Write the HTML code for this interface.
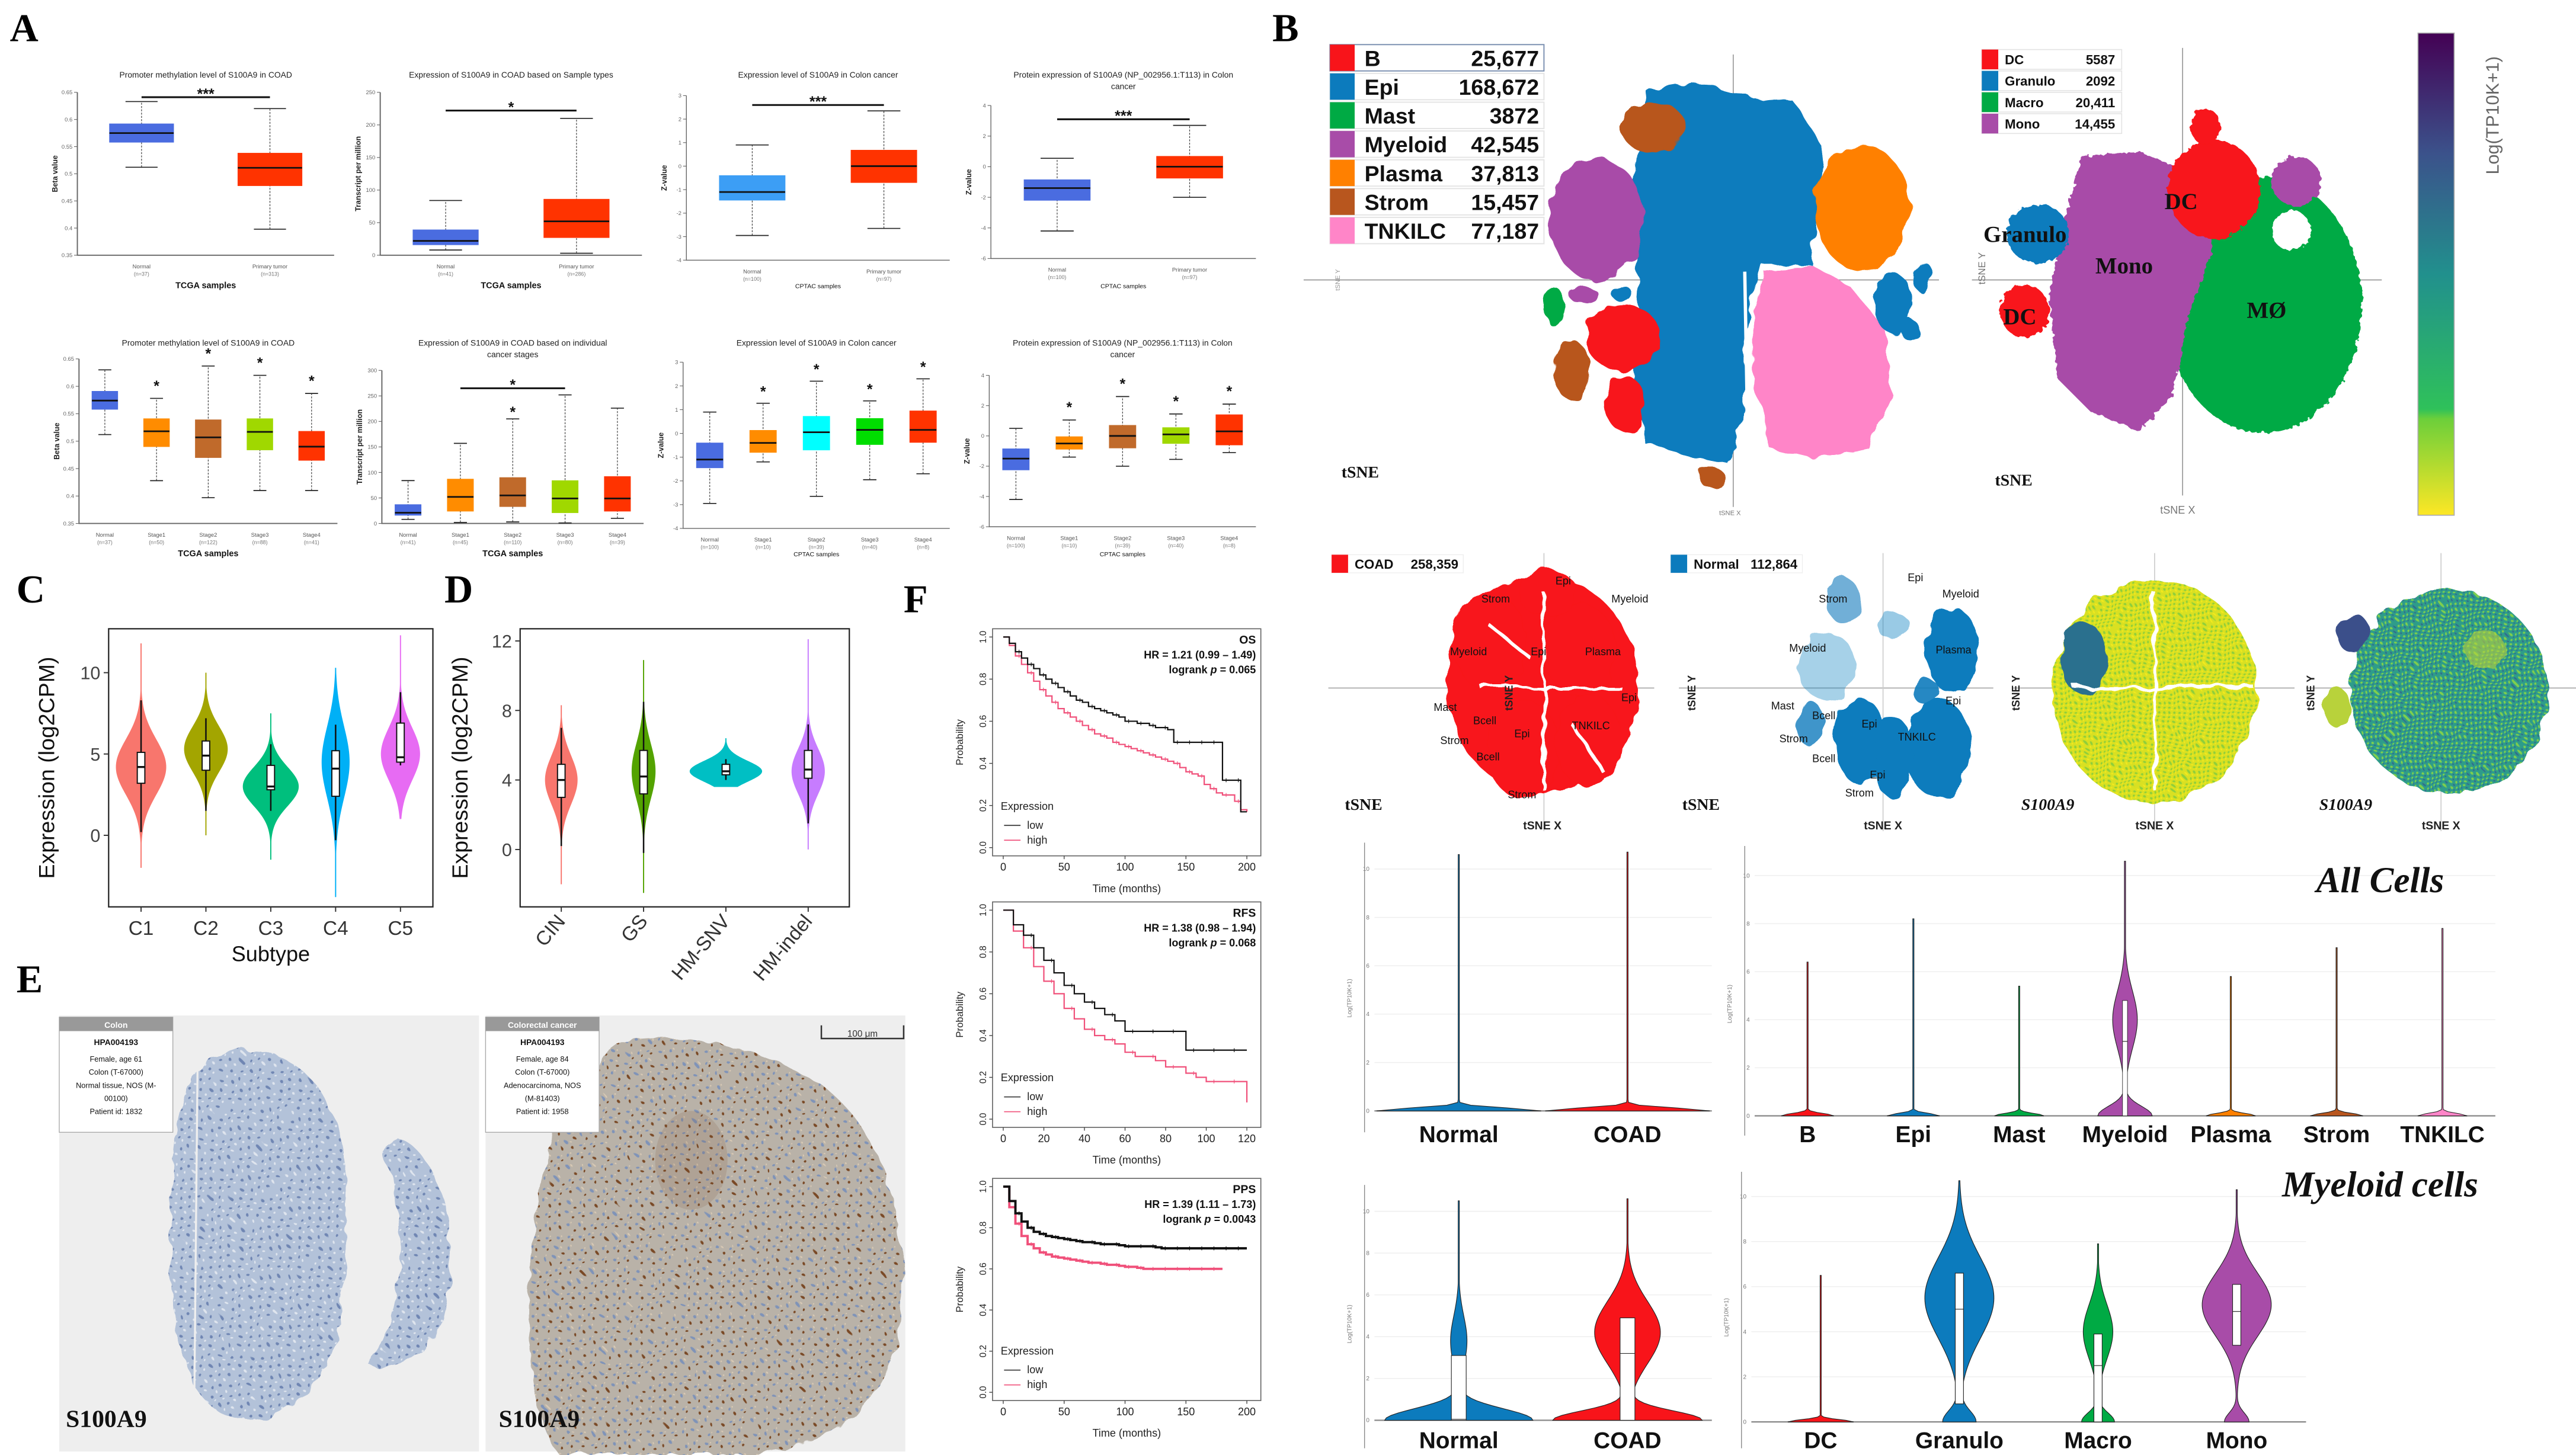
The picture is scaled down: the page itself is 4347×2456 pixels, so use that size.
<!DOCTYPE html>
<html><head><meta charset="utf-8"><style>
html,body{margin:0;padding:0;background:#fff;}
svg{display:block;font-family:"Liberation Sans",sans-serif;}
</style></head><body>
<svg id="fig" xmlns="http://www.w3.org/2000/svg" width="4347" height="2456" viewBox="0 0 1565 884">
<defs>
<filter id="rough" x="-20%" y="-20%" width="140%" height="140%"><feTurbulence type="fractalNoise" baseFrequency="0.09" numOctaves="2" seed="3"/><feDisplacementMap in="SourceGraphic" scale="7"/></filter>
<filter id="rough2" x="-20%" y="-20%" width="140%" height="140%"><feTurbulence type="fractalNoise" baseFrequency="0.3" numOctaves="2" seed="5"/><feDisplacementMap in="SourceGraphic" scale="4"/></filter>
<linearGradient id="vir" x1="0" y1="0" x2="0" y2="1"><stop offset="0" stop-color="#440154"/><stop offset="0.25" stop-color="#3b528b"/><stop offset="0.5" stop-color="#21908d"/><stop offset="0.78" stop-color="#2fc15a"/><stop offset="0.8" stop-color="#6ccf3a"/><stop offset="1" stop-color="#fde725"/></linearGradient>
<pattern id="yel" width="3" height="3" patternUnits="userSpaceOnUse"><rect width="3" height="3" fill="#d9e021"/><circle cx="1" cy="1" r="0.7" fill="#8fcf3a"/><circle cx="2.4" cy="2.2" r="0.5" fill="#f3ea1e"/></pattern>
<pattern id="tea" width="3" height="3" patternUnits="userSpaceOnUse"><rect width="3" height="3" fill="#2e9c8a"/><circle cx="1" cy="1" r="0.7" fill="#7fcf4e"/><circle cx="2.3" cy="2.3" r="0.5" fill="#31698e"/></pattern>
<pattern id="tisB" width="6" height="6" patternUnits="userSpaceOnUse"><rect width="6" height="6" fill="#b3c2d9"/><circle cx="2" cy="2" r="0.9" fill="#6f86b3"/><circle cx="4.5" cy="4.6" r="0.7" fill="#dfe5ee"/></pattern>
<pattern id="tisR" width="7" height="7" patternUnits="userSpaceOnUse"><rect width="7" height="7" fill="#b9b2a8"/><circle cx="2" cy="2" r="0.9" fill="#7f93b8"/><circle cx="5" cy="4.5" r="0.8" fill="#7a4a25"/><circle cx="4" cy="1" r="0.5" fill="#d8c9b4"/></pattern>
</defs>
</svg>
<script>
const svg=document.getElementById('fig');
const NS='http://www.w3.org/2000/svg';
function mk(tag,a,p){const e=document.createElementNS(NS,tag);for(const k in a)e.setAttribute(k,a[k]);(p||svg).appendChild(e);return e;}
function T(s,x,y,sz,ex,p){const e=mk('text',Object.assign({x:x,y:y,'font-size':sz},ex||{}),p);e.textContent=s;return e;}

/* ================= DATA: panel A box plots ================= */
const a1Cats=['Normal','Primary tumor'];const a1N=['(n=37)','(n=313)'];
const a1Q1=[0.558,0.478];const a1Med=[0.575,0.511];const a1Q3=[0.592,0.538];const a1Lo=[0.512,0.398];const a1Hi=[0.633,0.62];
const a1Ticks=[0.35,0.4,0.45,0.5,0.55,0.6,0.65];
const a2Cats=['Normal','Primary tumor'];const a2N=['(n=41)','(n=286)'];
const a2Q1=[16,27];const a2Med=[22,52];const a2Q3=[39,86];const a2Lo=[8,3];const a2Hi=[84,210];
const a2Ticks=[0,50,100,150,200,250];
const a3Cats=['Normal','Primary tumor'];const a3N=['(n=100)','(n=97)'];
const a3Q1=[-1.45,-0.7];const a3Med=[-1.1,0];const a3Q3=[-0.4,0.68];const a3Lo=[-2.95,-2.65];const a3Hi=[0.9,2.35];
const a3Ticks=[-4,-3,-2,-1,0,1,2,3];
const a4Cats=['Normal','Primary tumor'];const a4N=['(n=100)','(n=97)'];
const a4Q1=[-2.2,-0.75];const a4Med=[-1.4,0];const a4Q3=[-0.85,0.68];const a4Lo=[-4.2,-2];const a4Hi=[0.55,2.7];
const a4Ticks=[-6,-4,-2,0,2,4];
const a5Cats=['Normal','Stage1','Stage2','Stage3','Stage4'];const a5N=['(n=37)','(n=50)','(n=122)','(n=88)','(n=41)'];
const a5Q1=[0.558,0.49,0.47,0.484,0.465];const a5Med=[0.574,0.518,0.507,0.517,0.49];const a5Q3=[0.591,0.541,0.539,0.541,0.518];const a5Lo=[0.512,0.428,0.397,0.41,0.41];const a5Hi=[0.63,0.578,0.637,0.62,0.587];
const a6Cats=['Normal','Stage1','Stage2','Stage3','Stage4'];const a6N=['(n=41)','(n=45)','(n=110)','(n=80)','(n=39)'];
const a6Q1=[16,24,33,21,24];const a6Med=[21,52,55,49,49];const a6Q3=[37,87,90,84,92];const a6Lo=[8,2,3,1,10];const a6Hi=[84,157,205,252,226];
const a6Ticks=[0,50,100,150,200,250,300];
const a7Cats=['Normal','Stage1','Stage2','Stage3','Stage4'];const a7N=['(n=100)','(n=10)','(n=39)','(n=40)','(n=8)'];
const a7Q1=[-1.45,-0.8,-0.7,-0.47,-0.38];const a7Med=[-1.1,-0.4,0.05,0.15,0.15];const a7Q3=[-0.4,0.13,0.72,0.63,0.95];const a7Lo=[-2.95,-1.2,-2.65,-1.95,-1.7];const a7Hi=[0.9,1.27,2.2,1.37,2.3];
const a8Cats=['Normal','Stage1','Stage2','Stage3','Stage4'];const a8N=['(n=100)','(n=10)','(n=39)','(n=40)','(n=8)'];
const a8Q1=[-2.25,-0.88,-0.8,-0.5,-0.6];const a8Med=[-1.5,-0.5,0,0.1,0.3];const a8Q3=[-0.85,-0.05,0.7,0.55,1.4];const a8Lo=[-4.2,-1.4,-2,-1.55,-1.1];const a8Hi=[0.5,1.05,2.6,1.45,2.1];

/* ================= DATA: C / D violins ================= */
const cCats=['C1','C2','C3','C4','C5'];
const cLo=[-2,0,-1.5,-3.8,1];const cHi=[11.8,10,7.5,10.3,12.3];
const cMode=[4.2,5.3,3,4.5,5];const cSd=[1.7,1.4,1.2,2.2,1.6];const cDens=[0.9,0.78,1.0,0.5,0.7];
const cQ1=[3.2,4,2.8,2.4,4.5];const cMed=[4.2,4.9,3.0,4.1,4.8];const cQ3=[5.1,5.8,4.3,5.2,6.9];
const cWLo=[0.2,1.5,1.5,-0.3,4.3];const cWHi=[8.3,7.2,5.6,6.8,8.8];
const cTicks=[0,5,10];
const dCats=['CIN','GS','HM-SNV','HM-indel'];
const dLo=[-2,-2.5,3.6,0];const dHi=[8.3,10.9,6.4,12.1];
const dMode=[4,4.5,4.5,4.5];const dSd=[1.4,1.6,0.6,1.3];const dDens=[0.45,0.33,1.0,0.46];
const dQ1=[3,3.2,4.3,4.1];const dMed=[4,4.2,4.5,4.6];const dQ3=[4.9,5.7,4.9,5.7];
const dWLo=[0.2,-0.2,4,1.5];const dWHi=[7,8.5,5.2,7.2];
const dTicks=[0,4,8,12];

/* ================= DATA: F Kaplan-Meier ================= */
const osTime=[0,5,10,15,20,25,30,35,40,45,50,55,60,65,70,75,80,85,90,95,100,105,110,115,120,125,130,135,140,145,150,155,160,165,170,175,180,185,190,195,200];
const osLow=[1,.97,.93,.9,.87,.85,.82,.8,.78,.76,.74,.72,.7,.69,.67,.66,.65,.64,.63,.62,.6,.6,.59,.59,.58,.57,.57,.56,.5,.5,.5,.5,.5,.5,.5,.5,.32,.32,.32,.17,.17];
const osHigh=[1,.96,.91,.87,.83,.79,.75,.72,.69,.66,.64,.62,.6,.58,.56,.54,.53,.52,.5,.49,.48,.47,.46,.45,.44,.43,.42,.41,.4,.38,.36,.35,.34,.3,.28,.26,.25,.25,.22,.18,.17];
const osTicks=[0,50,100,150,200];
const rfsTime=[0,5,10,15,20,25,30,35,40,45,50,55,60,65,70,75,80,85,90,95,100,105,110,115,120];
const rfsLow=[1,.93,.88,.82,.76,.7,.64,.6,.56,.53,.5,.47,.42,.42,.42,.42,.42,.42,.33,.33,.33,.33,.33,.33,.33];
const rfsHigh=[1,.9,.82,.73,.66,.6,.53,.48,.43,.4,.38,.36,.32,.3,.3,.28,.25,.25,.22,.2,.18,.18,.18,.18,.08];
const rfsTicks=[0,20,40,60,80,100,120];
const ppsTime=[0,5,10,15,20,25,30,35,40,45,50,55,60,65,70,75,80,85,90,95,100,105,110,115,120,125,130,135,140,145,150,155,160,165,170,175,180,185,190,195,200];
const ppsLow=[1,.93,.87,.83,.8,.78,.77,.76,.755,.75,.745,.74,.735,.73,.73,.725,.72,.72,.72,.715,.71,.71,.71,.71,.71,.705,.7,.7,.7,.7,.7,.7,.7,.7,.7,.7,.7,.7,.7,.7,.7];
const ppsHigh=[1,.9,.82,.76,.72,.7,.68,.67,.66,.655,.65,.645,.64,.635,.63,.63,.625,.62,.62,.615,.61,.61,.605,.6,.6,.6,.6,.6,.6,.6,.6,.6,.6,.6,.6,.6,.6];
const kmProbTicks=[0,0.2,0.4,0.6,0.8,1.0];

/* ================= DATA: single-cell violins ================= */
const scTicks=[0,2,4,6,8,10];
const v1Cats=['Normal','COAD'];const v1Hi=[10.6,10.7];const v1Zero=[1,1];const v1S0=[0.12,0.12];const v1Mode=[0,0];const v1Sd=[1,1];const v1Dens=[0,0];
const v2Cats=['B','Epi','Mast','Myeloid','Plasma','Strom','TNKILC'];
const v2Hi=[6.4,8.2,5.4,10.6,5.8,7,7.8];const v2Zero=[.32,.32,.3,.33,.3,.32,.3];const v2S0=[.1,.1,.1,.4,.1,.1,.1];
const v2Mode=[0,0,0,4,0,0,0];const v2Sd=[1,1,1,1.2,1,1,1];const v2Dens=[0,0,0,.15,0,0,0];
const v3Cats=['Normal','COAD'];const v3Hi=[10.5,10.6];const v3Zero=[.9,.9];const v3S0=[.55,.45];const v3Mode=[3.8,4.2];const v3Sd=[1.2,1.5];const v3Dens=[.1,.4];
const v3Q1=[0,0];const v3Med=[0.05,3.2];const v3Q3=[3.1,4.9];
const v4Cats=['DC','Granulo','Macro','Mono'];const v4Hi=[6.5,10.7,7.9,10.3];const v4Zero=[.4,.2,.2,.15];const v4S0=[.1,.5,.4,.4];
const v4Mode=[0,5.5,4,5.2];const v4Sd=[1,1.8,1.2,1.4];const v4Dens=[0,.42,.18,.42];
const v4Q1=[0,0.8,0,3.4];const v4Med=[0,5,2.5,4.9];const v4Q3=[0,6.6,3.9,6.1];

/* ================= panel letters ================= */
const letters=[['A',6,25],['B',773,25],['C',10,366],['D',270,366],['E',10,603],['F',549,372]];
letters.forEach(l=>{const t=T(l[0],l[1],l[2],24,{'font-family':'Liberation Serif, serif','font-weight':'bold'});

});

/* ================= Box plot panels ================= */
const bluN='#4A6CE0',red='#FF3300';
const boxPanels=[
 {id:'a1',title:['Promoter methylation level of S100A9 in COAD'],cats:a1Cats,n:a1N,q1:a1Q1,med:a1Med,q3:a1Q3,lo:a1Lo,hi:a1Hi,ticks:a1Ticks,x0:47,x1:203,y0:56,y1:155,yl:'Beta value',xt:'TCGA samples',ty:47,xty:175,col:[bluN,red],sig:[[0,1,0.641,'***']]},
 {id:'a2',title:['Expression of S100A9 in COAD based on Sample types'],cats:a2Cats,n:a2N,q1:a2Q1,med:a2Med,q3:a2Q3,lo:a2Lo,hi:a2Hi,ticks:a2Ticks,x0:231,x1:390,y0:56,y1:155,yl:'Transcript per million',xt:'TCGA samples',ty:47,xty:175,col:[bluN,red],sig:[[0,1,222,'*']]},
 {id:'a3',title:['Expression level of S100A9 in Colon cancer'],cats:a3Cats,n:a3N,q1:a3Q1,med:a3Med,q3:a3Q3,lo:a3Lo,hi:a3Hi,ticks:a3Ticks,x0:417,x1:577,y0:58,y1:158,yl:'Z-value',xt:'CPTAC samples',ty:47,xty:175,col:['#3C9EF5',red],sig:[[0,1,2.6,'***']],thin:1},
 {id:'a4',title:['Protein expression of S100A9 (NP_002956.1:T113) in Colon','cancer'],cats:a4Cats,n:a4N,q1:a4Q1,med:a4Med,q3:a4Q3,lo:a4Lo,hi:a4Hi,ticks:a4Ticks,x0:602,x1:763,y0:64,y1:157,yl:'Z-value',xt:'CPTAC samples',ty:47,xty:175,col:[bluN,red],sig:[[0,1,3.1,'***']],thin:1},
 {id:'a5',title:['Promoter methylation level of S100A9 in COAD'],cats:a5Cats,n:a5N,q1:a5Q1,med:a5Med,q3:a5Q3,lo:a5Lo,hi:a5Hi,ticks:a1Ticks,x0:48,x1:205,y0:218,y1:318,yl:'Beta value',xt:'TCGA samples',ty:210,xty:338,col:[bluN,'#FF8C00','#C06A2B','#A0D800',red],stars:0.012},
 {id:'a6',title:['Expression of S100A9 in COAD based on individual','cancer stages'],cats:a6Cats,n:a6N,q1:a6Q1,med:a6Med,q3:a6Q3,lo:a6Lo,hi:a6Hi,ticks:a6Ticks,x0:232,x1:391,y0:225,y1:318,yl:'Transcript per million',xt:'TCGA samples',ty:210,xty:338,col:[bluN,'#FF8C00','#C06A2B','#A0D800',red],sig:[[1,3,265,'*'],[2,2,212,'*']]},
 {id:'a7',title:['Expression level of S100A9 in Colon cancer'],cats:a7Cats,n:a7N,q1:a7Q1,med:a7Med,q3:a7Q3,lo:a7Lo,hi:a7Hi,ticks:a3Ticks,x0:415,x1:577,y0:220,y1:321,yl:'Z-value',xt:'CPTAC samples',ty:210,xty:338,col:[bluN,'#FF8C00','#00FFFF','#00DD00',red],stars:0.25,thin:1},
 {id:'a8',title:['Protein expression of S100A9 (NP_002956.1:T113) in Colon','cancer'],cats:a8Cats,n:a8N,q1:a8Q1,med:a8Med,q3:a8Q3,lo:a8Lo,hi:a8Hi,ticks:a4Ticks,x0:601,x1:763,y0:228,y1:320,yl:'Z-value',xt:'CPTAC samples',ty:210,xty:338,col:[bluN,'#FF8C00','#C06A2B','#A0D800',red],stars:0.45,thin:1}
];
boxPanels.forEach(c=>{
 const g=mk('g',{});
 
 
 const ymin=c.ticks[0],ymax=c.ticks[c.ticks.length-1];
 const Y=v=>c.y1-(v-ymin)/(ymax-ymin)*(c.y1-c.y0);
 const n=c.cats.length,slot=(c.x1-c.x0)/n,X=i=>c.x0+(i+0.5)*slot,bw=slot*0.5;
 const ax=mk('path',{d:`M${c.x0} ${c.y0}V${c.y1}H${c.x1}`,stroke:'#666',fill:'none','stroke-width':c.thin?0.5:0.7},g);
 
 
 c.ticks.forEach(t=>{
  mk('line',{x1:c.x0-2,x2:c.x0,y1:Y(t),y2:Y(t),stroke:'#666','stroke-width':0.4},g);
  const tl=T(String(t),c.x0-3,Y(t)+1.2,3.4,{'text-anchor':'end',fill:'#666'},g);
  
  
 });
 c.title.forEach((s,k)=>{const tt=T(s,(c.x0+c.x1)/2,c.ty+k*7,5,{'text-anchor':'middle',fill:'#222'},g);
  
  });
 const yl=T(c.yl,0,0,4.5,{'text-anchor':'middle','font-weight':'bold',fill:'#222',transform:`translate(${c.x0-12},${(c.y0+c.y1)/2}) rotate(-90)`},g);
 
 
 const xt=T(c.xt,(c.x0+c.x1)/2,c.xty,c.thin?3.8:5.2,{'text-anchor':'middle',fill:'#111','font-weight':c.thin?'normal':'bold'},g);
 
 
 for(let i=0;i<n;i++){
  const x=X(i);
  const wh=mk('line',{x1:x,x2:x,y1:Y(c.lo[i]),y2:Y(c.hi[i]),stroke:'#333','stroke-width':0.4,'stroke-dasharray':'1.2,0.8'},g);
  
  
  [c.lo[i],c.hi[i]].forEach(v=>{mk('line',{x1:x-bw*0.25,x2:x+bw*0.25,y1:Y(v),y2:Y(v),stroke:'#222','stroke-width':0.6},g);});
  const b=mk('rect',{x:x-bw/2,y:Y(c.q3[i]),width:bw,height:Y(c.q1[i])-Y(c.q3[i]),fill:c.col[i],stroke:c.col[i],'stroke-width':0.3},g);
  
  
  const m=mk('line',{x1:x-bw/2,x2:x+bw/2,y1:Y(c.med[i]),y2:Y(c.med[i]),stroke:'#111','stroke-width':1},g);
  
  
  const cl=T(c.cats[i],x,c.y1+8,3.4,{'text-anchor':'middle',fill:'#555'},g);
  
  
  T(c.n[i],x,c.y1+12.5,3.2,{'text-anchor':'middle',fill:'#777'},g);
  if(c.stars&&i>0){const st=T('*',x,Y(c.hi[i]+c.stars)-0.5,9,{'text-anchor':'middle','font-weight':'bold',fill:'#111'},g);
   
   }
 }
 (c.sig||[]).forEach(s=>{
  const y=Y(s[2]);
  if(s[0]!==s[1]){const br=mk('line',{x1:X(s[0]),x2:X(s[1]),y1:y,y2:y,stroke:'#111','stroke-width':1.1},g);
   
   }
  const st=T(s[3],(X(s[0])+X(s[1]))/2,y+1,9,{'text-anchor':'middle','font-weight':'bold',fill:'#111'},g);
  
  
 });
});

/* ================= Violin helpers ================= */
function violinPath(cx,Y,lo,hi,mode,sd,dens,zeroW,s0,maxHalf){
 const N=90;let L=[],R=[];
 for(let k=0;k<=N;k++){const v=lo+(hi-lo)*k/N;
  let w=dens*Math.exp(-0.5*Math.pow((v-mode)/sd,2))+zeroW*Math.exp(-0.5*Math.pow((v-lo)/s0,2));
  w=Math.max(w*maxHalf,0.35);
  L.push([cx-w,Y(v)]);R.push([cx+w,Y(v)]);}
 return 'M'+L.map(p=>p[0].toFixed(2)+' '+p[1].toFixed(2)).join('L')+'L'+R.reverse().map(p=>p[0].toFixed(2)+' '+p[1].toFixed(2)).join('L')+'Z';
}

/* C and D */
function rPanel(id,cats,lo,hi,mode,sd,dens,q1,med,q3,wlo,whi,ticks,cols,x0,x1,y0,y1,vmin,vmax,maxHalf,rot,xtitle,ylx){
 const g=mk('g',{});
 
 
 const Y=v=>y1-(v-vmin)/(vmax-vmin)*(y1-y0);
 const n=cats.length,X=i=>x0+(i+0.5)*(x1-x0)/n;
 const fr=mk('rect',{x:x0,y:y0,width:x1-x0,height:y1-y0,fill:'none',stroke:'#222','stroke-width':0.8},g);
 
 
 ticks.forEach(t=>{mk('line',{x1:x0-3,x2:x0,y1:Y(t),y2:Y(t),stroke:'#333','stroke-width':0.7},g);
  const tl=T(String(t),x0-5,Y(t)+4,11,{'text-anchor':'end',fill:'#444'},g);
  
  });
 const yl=T('Expression (log2CPM)',0,0,13.5,{'text-anchor':'middle',fill:'#111',transform:`translate(${ylx},${(y0+y1)/2}) rotate(-90)`},g);
 
 
 for(let i=0;i<n;i++){const x=X(i);
  const vp=mk('path',{d:violinPath(x,Y,lo[i],hi[i],mode[i],sd[i],dens[i],0,1,maxHalf),fill:cols[i],stroke:'none'},g);
  
  
  mk('line',{x1:x,x2:x,y1:Y(wlo[i]),y2:Y(whi[i]),stroke:'#111','stroke-width':0.9},g);
  const bx=mk('rect',{x:x-2.3,y:Y(q3[i]),width:4.6,height:Y(q1[i])-Y(q3[i]),fill:'#fff',stroke:'#111','stroke-width':0.7},g);
  
  
  mk('line',{x1:x-2.3,x2:x+2.3,y1:Y(med[i]),y2:Y(med[i]),stroke:'#111','stroke-width':1.2},g);
  mk('line',{x1:x,x2:x,y1:y1,y2:y1+3,stroke:'#333','stroke-width':0.7},g);
  let cl;
  if(rot) cl=T(cats[i],0,0,12,{'text-anchor':'end',fill:'#333',transform:`translate(${x+3},${y1+9}) rotate(-50)`},g);
  else cl=T(cats[i],x,y1+17,12,{'text-anchor':'middle',fill:'#333'},g);
  
  
 }
 if(xtitle){const xt=T(xtitle,(x0+x1)/2,y1+33,13,{'text-anchor':'middle',fill:'#111'},g);
  
  }
}
rPanel('c',cCats,cLo,cHi,cMode,cSd,cDens,cQ1,cMed,cQ3,cWLo,cWHi,cTicks,['#F8766D','#A3A500','#00BF7D','#00B0F6','#E76BF3'],66,263,382,551,-4.4,12.7,17,false,'Subtype',33);
rPanel('d',dCats,dLo,dHi,dMode,dSd,dDens,dQ1,dMed,dQ3,dWLo,dWHi,dTicks,['#F8766D','#53A300','#00BFC4','#C77CFF'],316,516,382,551,-3.3,12.7,22,true,null,284);

/* ================= F: Kaplan-Meier ================= */
function km(id,times,low,high,ticks,tmax,y0,y1,label,hr,p){
 const g=mk('g',{});
 
 
 const x0=603,x1=766;
 const X=t=>609.5+t/tmax*(757.5-609.5);
 const Y=v=>(y1-5)-v*((y1-5)-(y0+5));
 const fr=mk('rect',{x:x0,y:y0,width:x1-x0,height:y1-y0,fill:'none',stroke:'#666','stroke-width':0.6},g);
 
 
 ticks.forEach(t=>{mk('line',{x1:X(t),x2:X(t),y1:y1,y2:y1+2,stroke:'#444','stroke-width':0.5},g);
  const tl=T(String(t),X(t),y1+9,6.5,{'text-anchor':'middle',fill:'#222'},g);
  
  });
 kmProbTicks.forEach(t=>{mk('line',{x1:x0-2,x2:x0,y1:Y(t),y2:Y(t),stroke:'#444','stroke-width':0.5},g);
  const tl=T(t.toFixed(1),0,0,5.5,{'text-anchor':'middle',fill:'#222',transform:`translate(${x0-4},${Y(t)}) rotate(-90)`},g);
  
  });
 const yl=T('Probability',0,0,6,{'text-anchor':'middle',fill:'#222',transform:`translate(${x0-18},${(y0+y1)/2}) rotate(-90)`},g);
 
 
 const xt=T('Time (months)',(x0+x1)/2,y1+22,6.5,{'text-anchor':'middle',fill:'#222'},g);
 
 
 [[high,'#F0507A','high'],[low,'#111','low']].forEach(s=>{
  let d=`M${X(times[0])} ${Y(s[0][0])}`;
  for(let k=1;k<s[0].length;k++){d+=`H${X(times[k])}V${Y(s[0][k])}`;}
  const pth=mk('path',{d:d,fill:'none',stroke:s[1],'stroke-width':id==='pps'?1.4:0.8},g);
  
  
  for(let k=3;k<s[0].length;k+=2){mk('line',{x1:X(times[k])-1.5,x2:X(times[k])-1.5,y1:Y(s[0][k-1])-1.2,y2:Y(s[0][k-1])+1.2,stroke:s[1],'stroke-width':0.4},g);}
 });
 const lb=T(label,763,y0+9,7,{'text-anchor':'end','font-weight':'bold',fill:'#111'},g);
 
 
 T(hr,763,y0+18,6.5,{'text-anchor':'end','font-weight':'bold',fill:'#111'},g);
 const pt=T('',763,y0+27,6.5,{'text-anchor':'end','font-weight':'bold',fill:'#111'},g);
 pt.innerHTML='logrank <tspan font-style="italic">p</tspan> = '+p;
 
 
 const lg=mk('g',{},g);
 
 
 T('Expression',608,y1-28,6.5,{fill:'#222'},lg);
 mk('line',{x1:610,x2:620,y1:y1-18.5,y2:y1-18.5,stroke:'#333','stroke-width':0.6},lg);
 T('low',624,y1-16.5,6.5,{fill:'#222'},lg);
 mk('line',{x1:610,x2:620,y1:y1-9.5,y2:y1-9.5,stroke:'#F0507A','stroke-width':0.6},lg);
 T('high',624,y1-7.5,6.5,{fill:'#222'},lg);
}
km('os',osTime,osLow,osHigh,osTicks,200,382,520,'OS','HR = 1.21 (0.99 – 1.49)','0.065');
km('rfs',rfsTime,rfsLow,rfsHigh,rfsTicks,120,548,685,'RFS','HR = 1.38 (0.98 – 1.94)','0.068');
km('pps',ppsTime,ppsLow,ppsHigh,osTicks,200,716,851,'PPS','HR = 1.39 (1.11 – 1.73)','0.0043');

/* ================= E: IHC images ================= */
(function(){
 const g=mk('g',{});
 
 
 const im1=mk('rect',{x:36,y:617,width:255,height:265,fill:'#eeeeee'},g);
 
 
 const t1=mk('path',{d:'M135 640 C175 630 212 660 210 730 C212 800 205 850 160 862 C120 868 104 830 104 760 C102 700 106 650 135 640Z',fill:'url(#tisB)',filter:'url(#rough)'},g);
 
 
 mk('path',{d:'M240 690 C270 700 280 760 270 800 C262 825 240 835 225 830 C245 800 250 740 232 700Z',fill:'url(#tisB)',filter:'url(#rough)'},g);
 mk('line',{x1:120,y1:650,x2:118,y2:855,stroke:'#eee','stroke-width':1.2},g);
 const im2=mk('rect',{x:295,y:617,width:255,height:265,fill:'#eeeeee'},g);
 
 
 const t2=mk('path',{d:'M380 632 C420 625 470 640 500 660 C540 690 552 750 548 800 C540 860 500 884 440 884 L340 884 C320 860 318 800 325 740 C330 690 350 650 380 632Z',fill:'url(#tisR)',filter:'url(#rough)'},g);
 
 
 mk('ellipse',{cx:420,cy:705,rx:22,ry:30,fill:'#7a4a25',opacity:0.15},g);
 [['Colon','HPA004193',['Female, age 61','Colon (T-67000)','Normal tissue, NOS (M-','00100)','Patient id: 1832'],36],
  ['Colorectal cancer','HPA004193',['Female, age 84','Colon (T-67000)','Adenocarcinoma, NOS','(M-81403)','Patient id: 1958'],295]].forEach(b=>{
  const bg=mk('g',{},g);
  
  
  mk('rect',{x:b[3],y:618,width:69,height:70,fill:'#fff',stroke:'#aaa','stroke-width':0.5},bg);
  mk('rect',{x:b[3],y:618,width:69,height:8.5,fill:'#999'},bg);
  T(b[0],b[3]+34.5,624.5,5,{'text-anchor':'middle',fill:'#fff','font-weight':'bold'},bg);
  T(b[1],b[3]+34.5,635,5,{'text-anchor':'middle',fill:'#111','font-weight':'bold'},bg);
  b[2].forEach((s,k)=>T(s,b[3]+34.5,645+k*8,4.6,{'text-anchor':'middle',fill:'#111'},bg));
 });
 mk('path',{d:'M499 623V631H549V623',fill:'none',stroke:'#333','stroke-width':0.9},g);
 const sb=T('100 μm',524,630,5.5,{'text-anchor':'middle',fill:'#333'},g);
 
 
 [[40,'s100a9-label-normal'],[303,'s100a9-label-tumor']].forEach(s=>{const t=T('S100A9',s[0],867,15,{'font-family':'Liberation Serif, serif','font-weight':'bold',fill:'#111'},g);
  
  });
})();

/* ================= B: tSNE top ================= */
const cellTypes=['B','Epi','Mast','Myeloid','Plasma','Strom','TNKILC'];
const cellCounts=['25,677','168,672','3872','42,545','37,813','15,457','77,187'];
const cellCols=['#F8141A','#0C7BBD','#00AA44','#A84CA8','#FF8000','#B8561E','#FF85C8'];
const myeTypes=['DC','Granulo','Macro','Mono'];
const myeCounts=['5587','2092','20,411','14,455'];
const myeCols=['#F8141A','#0C7BBD','#00AA44','#A84CA8'];
(function(){
 const g=mk('g',{});
 
 
 mk('line',{x1:792,x2:1178,y1:170,y2:170,stroke:'#999','stroke-width':0.6},g);
 mk('line',{x1:1053,x2:1053,y1:33,y2:308,stroke:'#999','stroke-width':0.6},g);
 const bl=mk('g',{filter:'url(#rough)'},g);
 
 
 const shapes=[
  ['path',{d:'M1000 55 L1030 50 1060 58 1090 62 1108 90 1100 160 1070 160 1060 200 1060 250 1050 282 1030 278 1000 270 992 230 996 180 990 130 996 80Z',fill:cellCols[1]}],
  ['ellipse',{cx:1131,cy:126,rx:29,ry:38,fill:cellCols[4]}],
  ['path',{d:'M1072 165 L1100 160 1125 175 1145 200 1150 240 1135 272 1100 278 1075 272 1065 230 1065 190Z',fill:cellCols[6]}],
  ['ellipse',{cx:970,cy:133,rx:29,ry:37,fill:cellCols[3]}],
  ['ellipse',{cx:1004,cy:77,rx:20,ry:15,fill:cellCols[5]}],
  ['ellipse',{cx:986,cy:205,rx:23,ry:20,fill:cellCols[0]}],
  ['ellipse',{cx:987,cy:245,rx:12,ry:17,fill:cellCols[0]}],
  ['ellipse',{cx:955,cy:225,rx:11,ry:18,fill:cellCols[5]}],
  ['ellipse',{cx:944,cy:186,rx:6,ry:12,fill:cellCols[2]}],
  ['ellipse',{cx:962,cy:179,rx:9,ry:5,fill:cellCols[3]}],
  ['ellipse',{cx:1150,cy:184,rx:12,ry:18,fill:cellCols[1]}],
  ['ellipse',{cx:1168,cy:168,rx:5,ry:10,fill:cellCols[1]}],
  ['ellipse',{cx:1160,cy:200,rx:6,ry:6,fill:cellCols[1]}],
  ['ellipse',{cx:1040,cy:290,rx:8,ry:6,fill:cellCols[5]}],
  ['ellipse',{cx:985,cy:178,rx:6,ry:5,fill:cellCols[1]}]];
 shapes.forEach(s=>{const e=mk(s[0],s[1],bl);
  
  });
 mk('line',{x1:1060,x2:1062,y1:165,y2:278,stroke:'#fff','stroke-width':2},g);
 cellTypes.forEach((c,i)=>{
  const y=27+i*17.5;
  const lg=mk('g',{},g);
  
  
  mk('rect',{x:808,y:y,width:130,height:16,fill:'#fff',stroke:i===0?'#7a8fb0':'#e4e4e4','stroke-width':0.7},lg);
  mk('rect',{x:808,y:y,width:15,height:16,fill:cellCols[i]},lg);
  T(c,829,y+13,13.5,{'font-weight':'bold',fill:'#111'},lg);
  T(cellCounts[i],935,y+13,13.5,{'font-weight':'bold',fill:'#111','text-anchor':'end'},lg);
 });
 const ty=T('tSNE Y',0,0,4,{'text-anchor':'middle',fill:'#999',transform:'translate(814,170) rotate(-90)'},g);
 
 
 const tx=T('tSNE X',1051,313,4,{'text-anchor':'middle',fill:'#777'},g);
 
 
 const ts=T('tSNE',815,290,10,{'font-family':'Liberation Serif, serif','font-weight':'bold',fill:'#111'},g);
 
 
})();
(function(){
 const g=mk('g',{});
 
 
 mk('line',{x1:1198,x2:1447,y1:170,y2:170,stroke:'#999','stroke-width':0.6},g);
 mk('line',{x1:1326,x2:1326,y1:29,y2:301,stroke:'#999','stroke-width':0.6},g);
 const bl=mk('g',{filter:'url(#rough2)'},g);
 
 
 [['ellipse',{cx:1375,cy:185,rx:60,ry:78,fill:myeCols[2]}],
  ['path',{d:'M1265 95 L1300 92 1330 105 1345 150 1330 190 1320 240 1300 262 1270 250 1250 230 1245 180 1255 130Z',fill:myeCols[3]}],
  ['ellipse',{cx:1345,cy:115,rx:28,ry:30,fill:myeCols[0]}],
  ['ellipse',{cx:1340,cy:77,rx:9,ry:11,fill:myeCols[0]}],
  ['ellipse',{cx:1395,cy:110,rx:15,ry:15,fill:myeCols[3]}],
  ['ellipse',{cx:1392,cy:140,rx:12,ry:12,fill:'#fff'}],
  ['ellipse',{cx:1238,cy:142,rx:19,ry:18,fill:myeCols[1]}],
  ['ellipse',{cx:1230,cy:189,rx:15,ry:16,fill:myeCols[0]}]].forEach(s=>{const e=mk(s[0],s[1],bl);
  
  });
 [['DC',1315,127],['Granulo',1205,147],['Mono',1273,166],['MØ',1365,193],['DC',1217,197]].forEach(l=>{
  const t=T(l[0],l[1],l[2],14,{'font-family':'Liberation Serif, serif','font-weight':'bold',fill:'#111'},g);
  
  });
 myeTypes.forEach((c,i)=>{
  const y=30+i*13;
  const lg=mk('g',{},g);
  
  
  mk('rect',{x:1204,y:y,width:85,height:12,fill:'#fff',stroke:'#e4e4e4','stroke-width':0.6},lg);
  mk('rect',{x:1204,y:y,width:10,height:12,fill:myeCols[i]},lg);
  T(c,1218,y+9,8,{'font-weight':'bold',fill:'#111'},lg);
  T(myeCounts[i],1285,y+9,8,{'font-weight':'bold',fill:'#111','text-anchor':'end'},lg);
 });
 T('tSNE Y',0,0,6,{'text-anchor':'middle',fill:'#777',transform:'translate(1206,163) rotate(-90)'},g);
 T('tSNE X',1323,312,6.5,{'text-anchor':'middle',fill:'#777'},g);
 T('tSNE',1212,295,10,{'font-family':'Liberation Serif, serif','font-weight':'bold',fill:'#111'},g);
 const cb=mk('rect',{x:1469,y:20,width:22,height:293,fill:'url(#vir)',stroke:'#aaa','stroke-width':0.6},g);
 
 
 const cl=T('Log(TP10K+1)',0,0,11,{'text-anchor':'middle',fill:'#666',transform:'translate(1518,70) rotate(-90)'},g);
 
 
})();

/* ================= middle tSNE row ================= */
(function(){
 const g=mk('g',{});
 
 
 [[807,1005],[1020,1211],[1223,1394],[1401,1565]].forEach(r=>mk('line',{x1:r[0],x2:r[1],y1:418,y2:418,stroke:'#bbb','stroke-width':0.8},g));
 [938,1144,1309,1483].forEach(x=>mk('line',{x1:x,x2:x,y1:336,y2:505,stroke:'#ccc','stroke-width':0.6},g));
 [['COAD','258,359','#F8141A',809],['Normal','112,864','#0C7BBD',1015]].forEach(l=>{
  const lg=mk('g',{},g);
  
  
  mk('rect',{x:l[3],y:337,width:80,height:11,fill:'#fff',stroke:'#eee','stroke-width':0.5},lg);
  mk('rect',{x:l[3],y:337,width:10,height:11,fill:l[2]},lg);
  T(l[0],l[3]+14,345.5,8,{'font-weight':'bold',fill:'#111'},lg);
  T(l[1],l[3]+77,345.5,8,{'font-weight':'bold',fill:'#111','text-anchor':'end'},lg);
 });
 const coad=mk('g',{filter:'url(#rough)'},g);
 
 
 [[937,416,58,66],[905,390,22,30],[960,395,22,28],[925,455,22,30],[965,450,20,28],[940,360,18,14]].forEach(e=>mk('ellipse',{cx:e[0],cy:e[1],rx:e[2],ry:e[3],fill:'#F8141A'},coad));
 mk('path',{d:'M900 418H985M938 360V480M905 380L930 400M955 440L975 470',stroke:'#fff','stroke-width':2,fill:'none'},coad);
 const norm=mk('g',{filter:'url(#rough)'},g);
 
 
 [[1186,395,16,26,1],[1178,455,20,30,1],[1130,450,16,26,1],[1150,460,12,25,1],[1110,405,18,20,0.35],[1100,440,8,14,0.8],[1120,365,10,14,0.6],[1150,380,10,8,0.4],[1170,420,8,8,0.9]].forEach(e=>mk('ellipse',{cx:e[0],cy:e[1],rx:e[2],ry:e[3],fill:'#0C7BBD','fill-opacity':e[4]},norm));
 const ys=mk('g',{filter:'url(#rough)'},g);
 
 
 mk('ellipse',{cx:1309,cy:420,rx:62,ry:68,fill:'url(#yel)'},ys);
 mk('ellipse',{cx:1266,cy:400,rx:14,ry:22,fill:'#2a6f8e'},ys);
 mk('path',{d:'M1260 418H1370M1309 360V480',stroke:'#fff','stroke-width':2},ys);
 const ts=mk('g',{filter:'url(#rough)'},g);
 
 
 mk('ellipse',{cx:1488,cy:420,rx:60,ry:62,fill:'url(#tea)'},ts);
 mk('ellipse',{cx:1430,cy:385,rx:10,ry:12,fill:'#3b4f8a'},ts);
 mk('ellipse',{cx:1420,cy:430,rx:8,ry:12,fill:'#b8d23a'},ts);
 mk('ellipse',{cx:1510,cy:395,rx:12,ry:12,fill:'#b8d23a','fill-opacity':0.6},ts);
 [[919,421],[1030,421],[1227,421],[1406,421]].forEach(p=>{const t=T('tSNE Y',0,0,6.5,{'text-anchor':'middle','font-weight':'bold',fill:'#222',transform:`translate(${p[0]},${p[1]}) rotate(-90)`},g);
  
  });
 [937,1144,1309,1483].forEach(x=>{const t=T('tSNE X',x,504,7,{'text-anchor':'middle','font-weight':'bold',fill:'#222'},g);
  
  });
 [['tSNE',817,'normal'],['tSNE',1022,'normal'],['S100A9',1228,'italic'],['S100A9',1409,'italic']].forEach(l=>{
  const t=T(l[0],l[1],492,10,{'font-family':'Liberation Serif, serif','font-weight':'bold','font-style':l[2],fill:'#111'},g);
  
  });
 const lab=[['Epi',945,355],['Myeloid',979,366],['Strom',900,366],['Myeloid',881,398],['Epi',930,398],['Plasma',963,398],['Mast',871,432],['Epi',985,426],['Bcell',895,440],['Epi',920,448],['TNKILC',955,443],['Strom',875,452],['Bcell',897,462],['Strom',916,485],
  ['Epi',1159,353],['Myeloid',1180,363],['Strom',1105,366],['Myeloid',1087,396],['Plasma',1176,397],['Mast',1076,431],['Epi',1182,428],['Bcell',1101,437],['Epi',1131,442],['TNKILC',1153,450],['Strom',1081,451],['Bcell',1101,463],['Epi',1136,473],['Strom',1121,484]];
 lab.forEach(l=>{const t=T(l[0],l[1],l[2],6.5,{fill:'#111'},g);
  
  });
})();

/* ================= single-cell violins ================= */
function scPanel(id,cats,hi,zero,s0,mode,sd,dens,cols,x0,x1,zeroY,tenY,labY,q1,med,q3,bw,axTop,axBot){
 const g=mk('g',{});
 
 
 const Y=v=>zeroY-v/10*(zeroY-tenY);
 scTicks.forEach(t=>{mk('line',{x1:x0,x2:x1,y1:Y(t),y2:Y(t),stroke:'#eee','stroke-width':0.5},g);
  const tl=T(String(t),x0-3,Y(t)+1.2,3.6,{'text-anchor':'end',fill:'#777'},g);
  
  });
 mk('line',{x1:x0-6,x2:x0-6,y1:axTop,y2:axBot,stroke:'#888','stroke-width':0.5},g);
 mk('line',{x1:x0,x2:x1,y1:zeroY,y2:zeroY,stroke:'#888','stroke-width':0.8},g);
 const yl=T('Log(TP10K+1)',0,0,3.6,{'text-anchor':'middle',fill:'#777',transform:`translate(${x0-14},${(zeroY+tenY)/2+5}) rotate(-90)`},g);
 
 
 const n=cats.length,X=i=>x0+(i+0.5)*(x1-x0)/n;
 for(let i=0;i<n;i++){const x=X(i);
  const vp=mk('path',{d:violinPath(x,Y,0,hi[i],mode[i],sd[i],dens[i],zero[i],s0[i],50),fill:cols[i],stroke:'#222','stroke-width':0.4},g);
  
  
  if(q1&&q3[i]>q1[i]){
   const bx=mk('rect',{x:x-bw/2,y:Y(q3[i]),width:bw,height:Y(q1[i])-Y(q3[i]),fill:'#fff',stroke:'#222','stroke-width':0.4},g);
   
   
   mk('line',{x1:x-bw/2,x2:x+bw/2,y1:Y(med[i]),y2:Y(med[i]),stroke:'#222','stroke-width':0.4},g);
  }
  const cl=T(cats[i],x,labY,14,{'text-anchor':'middle','font-weight':'bold',fill:'#111'},g);
  
  
 }
 return {g:g,X:X,Y:Y};
}
scPanel('all-normal-coad',v1Cats,v1Hi,v1Zero,v1S0,v1Mode,v1Sd,v1Dens,['#0C7BBD','#F8141A'],835,1040,675,528,694,null,null,null,0,512,688);
const p2=scPanel('all-celltypes',v2Cats,v2Hi,v2Zero,v2S0,v2Mode,v2Sd,v2Dens,cellCols,1066,1516,678,532,694,null,null,null,0,514,690);
(function(){const i=3,x=p2.X(i);
 const bx=mk('rect',{x:x-1.5,y:p2.Y(4.8),width:3,height:p2.Y(0)-p2.Y(4.8),fill:'#fff',stroke:'#222','stroke-width':0.3},p2.g);
 
 
 mk('line',{x1:x-1.5,x2:x+1.5,y1:p2.Y(3.1),y2:p2.Y(3.1),stroke:'#222','stroke-width':0.4},p2.g);})();
scPanel('myeloid-normal-coad',v3Cats,v3Hi,v3Zero,v3S0,v3Mode,v3Sd,v3Dens,['#0C7BBD','#F8141A'],835,1040,863,736,880,v3Q1,v3Med,v3Q3,9,720,880);
scPanel('myeloid-subtypes',v4Cats,v4Hi,v4Zero,v4S0,v4Mode,v4Sd,v4Dens,myeCols,1064,1401,864,727,880,v4Q1,v4Med,v4Q3,5,712,880);
[['All Cells',1446,542],['Myeloid cells',1446,727]].forEach(l=>{const t=T(l[0],l[1],l[2],22,{'text-anchor':'middle','font-family':'Liberation Serif, serif','font-weight':'bold','font-style':'italic',fill:'#111'});
 
 });
</script>
</body></html>
